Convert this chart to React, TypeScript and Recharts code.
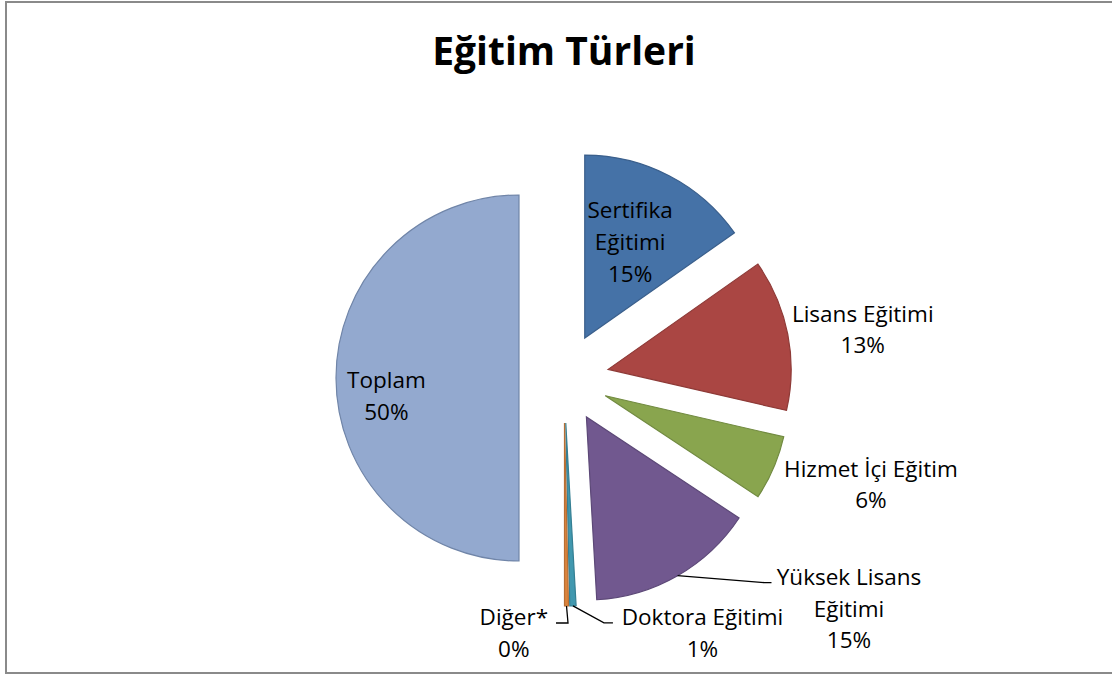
import React from 'react';
import { PieChart, Pie, Cell, Sector } from 'recharts';

// ---- data ----
const categories = [
  'Sertifika Eğitimi',
  'Lisans Eğitimi',
  'Hizmet İçi Eğitim',
  'Yüksek Lisans Eğitimi',
  'Doktora Eğitimi',
  'Diğer*',
  'Toplam',
];
const shares = [15.25, 13.35, 5.7, 14.8, 0.55, 0.35, 50];
const chartTitle = 'Eğitim Türleri';

// ---- styles ----
const fills = ['#4572A7', '#AA4643', '#89A54E', '#71588F', '#4198AF', '#DB843D', '#93A9CF'];
const strokes = ['#3A5F8C', '#8E3A37', '#718A40', '#5C4877', '#357F93', '#B86E33', '#7085A8'];

const data = categories.map((name, i) => ({ name, value: shares[i] }));

const W = 1112;
const H = 675;
const CX = 564;
const CY = 378;
const R = 183;
const EXPLODE = 45;
const RAD = Math.PI / 180;
const FONT = "'Open Sans', sans-serif";
const LABEL_SIZE = 22.5;
const LINE_H = 31.7;

type Layout = {
  r: number;
  dx: number;
  dy: number;
  wrap?: boolean;
  leader?: { ex: number; ey: number; h: number };
};

// label placement relative to each exploded slice
const labelLayout: Layout[] = [
  { r: 0.55, dx: -1, dy: -30.3, wrap: true },
  { r: 1, dx: 75, dy: -12.6 },
  { r: 1, dx: 97.4, dy: 8.9 },
  { r: 1, dx: 171.4, dy: 9.3, wrap: true, leader: { ex: -77.5, ey: -2.3, h: 7 } },
  { r: 1, dx: 129.5, dy: 19.1, leader: { ex: -89.5, ey: -2, h: 9 } },
  { r: 1, dx: -52.7, dy: 19, leader: { ex: 42.2, ey: -2, h: -12 } },
  { r: 0.73, dx: 1, dy: 10.3 },
];

function polar(cx: number, cy: number, r: number, angle: number) {
  return { x: cx + r * Math.cos(-angle * RAD), y: cy + r * Math.sin(-angle * RAD) };
}

const ExplodedSector = (props: any) => {
  const { cx, cy, startAngle, endAngle } = props;
  const mid = props.midAngle ?? (startAngle + endAngle) / 2;
  const o = polar(cx, cy, EXPLODE, mid);
  return (
    <Sector
      cx={o.x}
      cy={o.y}
      innerRadius={0}
      outerRadius={props.outerRadius}
      startAngle={startAngle}
      endAngle={endAngle}
      fill={props.fill}
      stroke={props.stroke}
      strokeWidth={1.2}
    />
  );
};

const renderLabel = (props: any) => {
  const { cx, cy, midAngle, outerRadius, percent, index } = props;
  const lay = labelLayout[index];
  const name = categories[index];
  const v = polar(cx, cy, EXPLODE, midAngle);
  const a = polar(v.x, v.y, lay.r * outerRadius, midAngle);
  const x = a.x + lay.dx;
  const y = a.y + lay.dy;
  let lines: string[];
  if (lay.wrap) {
    const k = name.lastIndexOf(' ');
    lines = [name.slice(0, k), name.slice(k + 1)];
  } else {
    lines = [name];
  }
  lines.push(`${Math.round(percent * 100)}%`);
  let leader = null;
  if (lay.leader) {
    const s = polar(v.x, v.y, outerRadius, midAngle);
    const ex = x + lay.leader.ex;
    const ey = y + lay.leader.ey;
    const bx = ex - lay.leader.h;
    leader = (
      <polyline
        points={`${s.x},${s.y} ${bx},${ey} ${ex},${ey}`}
        fill="none"
        stroke="#000"
        strokeWidth={1.3}
      />
    );
  }
  return (
    <g key={`lbl-${index}`}>
      {leader}
      {lines.map((t, i) => (
        <text
          key={i}
          x={x}
          y={y + i * LINE_H}
          textAnchor="middle"
          fontFamily={FONT}
          fontSize={LABEL_SIZE}
          fill="#000"
        >
          {t}
        </text>
      ))}
    </g>
  );
};

export default function App() {
  return (
    <div
      style={{
        position: 'absolute',
        left: 0,
        top: 0,
        width: W,
        height: H,
        overflow: 'hidden',
        background: '#fff',
      }}
    >
      <div
        style={{
          position: 'absolute',
          left: 5,
          top: 1,
          width: W + 10,
          height: 673,
          boxSizing: 'border-box',
          border: '2px solid #8a8a8a',
        }}
      />
      <div style={{ position: 'absolute', left: 0, top: 0 }}>
        <PieChart width={W} height={H} margin={{ top: 0, right: 0, bottom: 0, left: 0 }}>
          <Pie
            data={data}
            dataKey="value"
            nameKey="name"
            cx={CX}
            cy={CY}
            outerRadius={R}
            innerRadius={0}
            startAngle={90}
            endAngle={-270}
            isAnimationActive={false}
            shape={ExplodedSector}
            label={renderLabel}
            labelLine={false}
          >
            {data.map((d, i) => (
              <Cell key={d.name} fill={fills[i]} stroke={strokes[i]} strokeWidth={1.2} />
            ))}
          </Pie>
        </PieChart>
      </div>
      <svg
        width={W}
        height={H}
        style={{ position: 'absolute', left: 0, top: 0, pointerEvents: 'none' }}
      >
        <text
          x={564}
          y={65}
          textAnchor="middle"
          fontFamily={FONT}
          fontWeight={700}
          fontSize={39}
          fill="#000"
        >
          {chartTitle}
        </text>
      </svg>
    </div>
  );
}
